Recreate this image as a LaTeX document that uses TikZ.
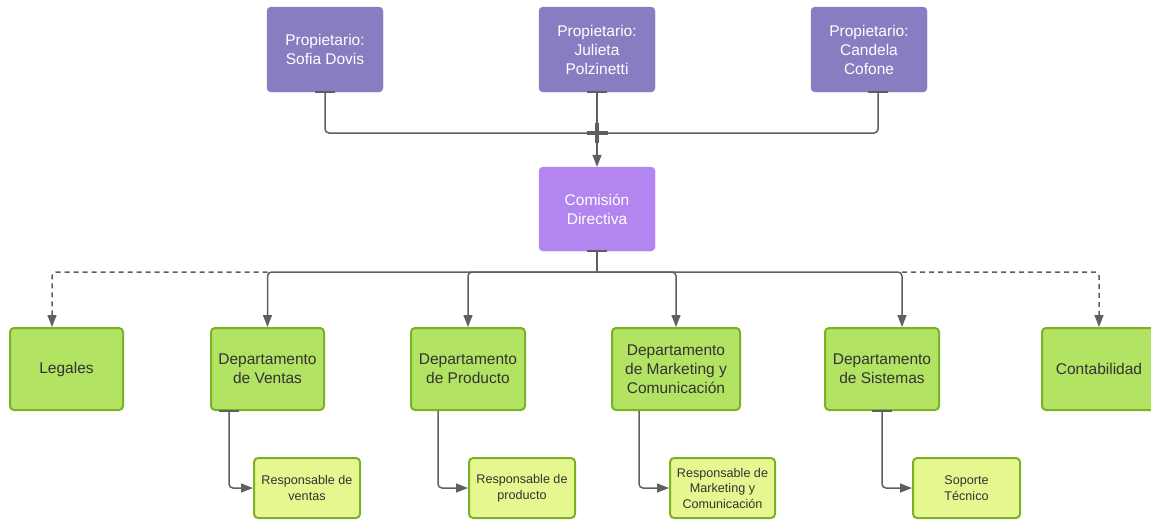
\documentclass[tikz,border=0pt]{standalone}
\usepackage{fontspec}
\setmainfont{Liberation Sans}
\usetikzlibrary{arrows.meta}
\definecolor{ownerc}{RGB}{138,124,192}
\definecolor{comc}{RGB}{179,133,240}
\definecolor{greenf}{RGB}{178,227,99}
\definecolor{greenb}{RGB}{122,178,36}
\definecolor{smallf}{RGB}{230,247,143}
\definecolor{txtc}{RGB}{51,51,51}
\definecolor{linec}{RGB}{95,95,95}
\tikzset{
  box/.style={rectangle, rounded corners=4pt, align=center, inner sep=2pt},
  owner/.style={box, fill=ownerc, draw=ownerc, text=white, minimum width=116pt, minimum height=85pt, font=\fontsize{15.5}{19}\selectfont},
  com/.style={box, fill=comc, draw=comc, text=white, minimum width=116pt, minimum height=84pt, font=\fontsize{15.5}{19}\selectfont},
  dept/.style={box, fill=greenf, draw=greenb, line width=2pt, text=txtc, minimum height=82pt, font=\fontsize{15.5}{19}\selectfont},
  sub/.style={box, fill=smallf, draw=greenb, line width=2pt, text=txtc, minimum width=106pt, minimum height=60pt, font=\fontsize{12.6}{15.5}\selectfont},
  conn/.style={draw=linec, line width=1.5pt, rounded corners=4pt},
  arr/.style={conn, -{Triangle[length=12pt,width=9pt]}},
  darr/.style={arr, dash pattern=on 5pt off 4pt},
  tick/.style={draw=linec, line width=2pt},
  crossm/.style={draw=linec, line width=3.5pt}
}
\begin{document}
\begin{tikzpicture}[x=1pt,y=-1pt]
\useasboundingbox (0,0) rectangle (1151,520);
\clip (0,0) rectangle (1151,520);
% owners
\node[owner] (sofia) at (325,49.5) {Propietario:\\Sofia Dovis};
\node[owner] (julieta) at (597,49.5) {Propietario:\\Julieta\\Polzinetti};
\node[owner] (candela) at (869,49.5) {Propietario:\\Candela\\Cofone};
\node[com] (comision) at (597,209) {Comisión\\Directiva};
% departments
\node[dept, minimum width=113pt] (legales) at (66.5,369) {Legales};
\node[dept, minimum width=113pt] (ventas) at (267.5,369) {Departamento\\de Ventas};
\node[dept, minimum width=114pt] (producto) at (468,369) {Departamento\\de Producto};
\node[dept, minimum width=128pt] (marketing) at (676,369) {Departamento\\de Marketing y\\Comunicación};
\node[dept, minimum width=114pt] (sistemas) at (882,369) {Departamento\\de Sistemas};
\node[dept, minimum width=114pt] (contab) at (1099,369) {Contabilidad};
% sub boxes
\node[sub] (rv) at (307,488) {Responsable de\\ventas};
\node[sub] (rp) at (522,488) {Responsable de\\producto};
\node[sub, minimum width=105pt] (rm) at (722.5,488) {Responsable de\\Marketing y\\Comunicación};
\node[sub, minimum width=107pt] (st) at (966.5,488) {Soporte\\Técnico};
% coordinates
\coordinate (join) at (597,133);
\coordinate (bus) at (597,272);
% owners to comision
\draw[conn] (sofia.south) |- (join);
\draw[conn] ([xshift=9pt]candela.south) |- (join);
\draw[arr] (julieta.south) -- (comision.north);
\draw[crossm] ([xshift=-10.5pt]join) -- ([xshift=10.5pt]join);
\draw[crossm] ([yshift=10pt]join) -- ([yshift=-10pt]join);
% comision to bus
\draw[conn] (comision.south) -- (bus);
\draw[arr] (bus) -| (ventas.north);
\draw[arr] (bus) -| (producto.north);
\draw[arr] (bus) -| (marketing.north);
\draw[arr] (bus) -| ([xshift=20pt]sistemas.north);
\draw[darr] (ventas.north |- bus) -| ([xshift=-14.5pt]legales.north);
\draw[darr] ([xshift=20pt]sistemas.north |- bus) -| (contab.north);
% sub connectors
\draw[arr] ([xshift=-38.5pt]ventas.south) |- (rv.west);
\draw[arr] ([xshift=-30pt]producto.south) |- (rp.west);
\draw[arr] ([xshift=-37pt]marketing.south) |- (rm.west);
\draw[arr] (sistemas.south) |- (st.west);
% ticks
\draw[tick] ([xshift=-10pt]sofia.south) -- ([xshift=10pt]sofia.south);
\draw[tick] ([xshift=-10pt]julieta.south) -- ([xshift=10pt]julieta.south);
\draw[tick] ([xshift=-1pt]candela.south) -- ([xshift=19pt]candela.south);
\draw[tick] ([xshift=-10pt]comision.south) -- ([xshift=10pt]comision.south);
\draw[tick] ([xshift=-48.5pt]ventas.south) -- ([xshift=-28.5pt]ventas.south);
\draw[tick] ([xshift=-10pt]sistemas.south) -- ([xshift=10pt]sistemas.south);
\end{tikzpicture}
\end{document}
